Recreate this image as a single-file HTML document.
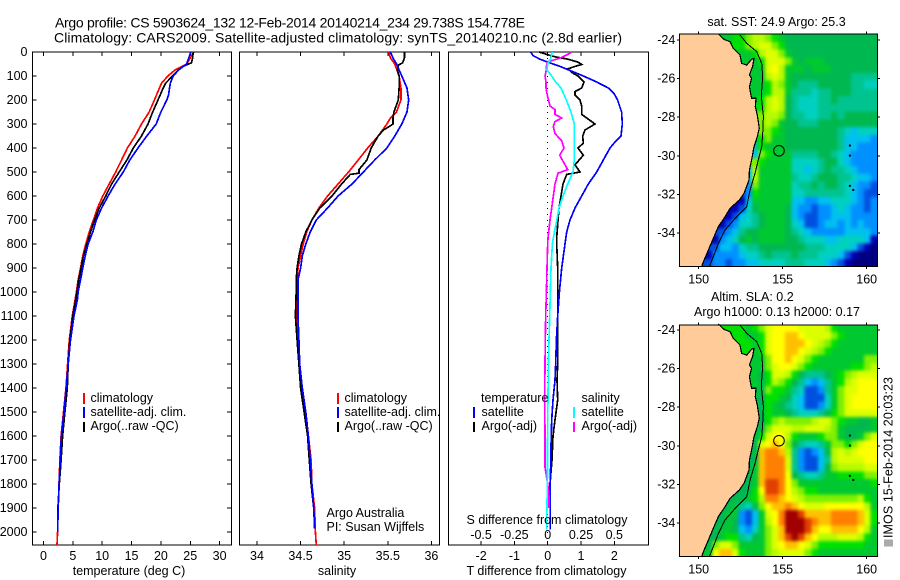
<!DOCTYPE html>
<html>
<head>
<meta charset="utf-8">
<title>Argo profile CS 5903624_132</title>
<style>
html,body{margin:0;padding:0;background:#fff;}
svg{display:block;}
text{font-family:"Liberation Sans",sans-serif;font-size:12.5px;fill:#000;}
.ttl{font-size:14px;}
</style>
</head>
<body>
<svg id="fig" xmlns="http://www.w3.org/2000/svg" width="900" height="580" viewBox="0 0 900 580">
  <defs>
    <filter id="soften" filterUnits="userSpaceOnUse" x="660" y="20" width="235" height="550" color-interpolation-filters="sRGB">
      <feGaussianBlur in="SourceGraphic" stdDeviation="1.7" result="b"/>
      <feMerge>
        <feMergeNode in="SourceGraphic"/>
        <feMergeNode in="b"/>
      </feMerge>
    </filter>
    <clipPath id="clipSst"><rect x="679.3" y="34" width="198" height="232.7"/></clipPath>
    <clipPath id="clipSla"><rect x="679.3" y="325" width="198" height="231.7"/></clipPath>
  </defs>
  <text class="ttl" x="55" y="27.5" textLength="470">Argo profile: CS 5903624_132 12-Feb-2014 20140214_234 29.738S 154.778E</text>
  <text class="ttl" x="54" y="42.5" textLength="568">Climatology: CARS2009. Satellite-adjusted climatology: synTS_20140210.nc (2.8d earlier)</text>

  <g id="plots"></g>
  <g id="maps"></g>

  <text x="129" y="575" text-anchor="middle">temperature (deg C)</text>
  <text x="337" y="575" text-anchor="middle">salinity</text>
  <text x="546.5" y="575" text-anchor="middle">T difference from climatology</text>
  <text x="547" y="524" text-anchor="middle">S difference from climatology</text>

  <g>
    <rect x="83" y="393" width="2" height="11" fill="#f00"/>
    <rect x="83" y="407" width="2" height="11" fill="#00f"/>
    <rect x="83" y="422" width="2" height="10" fill="#000"/>
    <text x="90.5" y="402">climatology</text>
    <text x="90.5" y="416">satellite-adj. clim.</text>
    <text x="90.5" y="430">Argo(..raw -QC)</text>
  </g>
  <g>
    <rect x="337" y="393" width="2" height="11" fill="#f00"/>
    <rect x="337" y="407" width="2" height="11" fill="#00f"/>
    <rect x="337" y="422" width="2" height="10" fill="#000"/>
    <text x="344.5" y="402">climatology</text>
    <text x="344.5" y="416">satellite-adj. clim.</text>
    <text x="344.5" y="430">Argo(..raw -QC)</text>
    <text x="326.5" y="517">Argo Australia</text>
    <text x="326.5" y="531">PI: Susan Wijffels</text>
  </g>
  <g>
    <text x="481" y="402">temperature</text>
    <rect x="473" y="407" width="2" height="11" fill="#00f"/>
    <rect x="473" y="422" width="2" height="10" fill="#000"/>
    <text x="481.5" y="416">satellite</text>
    <text x="481.5" y="430">Argo(-adj)</text>
    <text x="581.5" y="402">salinity</text>
    <rect x="573" y="407" width="2" height="11" fill="#0ff"/>
    <rect x="573" y="422" width="2" height="10" fill="#f0f"/>
    <text x="581.5" y="416">satellite</text>
    <text x="581.5" y="430">Argo(-adj)</text>
  </g>

  <text x="776.5" y="26" text-anchor="middle">sat. SST: 24.9 Argo: 25.3</text>
  <text x="711" y="301">Altim. SLA: 0.2</text>
  <text x="694" y="316" textLength="166">Argo h1000: 0.13 h2000: 0.17</text>
  <rect x="884" y="539.5" width="9" height="7" fill="#aaa"/>
  <text transform="translate(892.5,538) rotate(-90)" textLength="161">IMOS 15-Feb-2014 20:03:23</text>
</svg>

<script>
// ---------- Depth axis ----------
const depthTicks = [0,100,200,300,400,500,600,700,800,900,1000,1100,1200,1300,1400,1500,1600,1700,1800,1900,2000];

// ---------- Temperature panel ----------
const tempTicks = [0,5,10,15,20,25,30];
const tempClimDepth = [0,50,75,100,130,200,250,300,350,400,450,500,550,600,650,700,750,800,850,900,950,1000,1030,1100,1200,1300,1400,1500,1600,1700,1800,1900,2000,2054];
const tempClimValue = [25.6,24.4,22.4,21.2,20.1,18.9,18.0,16.7,15.6,14.3,13.3,12.3,11.2,10.1,9.2,8.5,7.8,7.2,6.7,6.3,5.9,5.6,5.4,4.9,4.4,4.1,3.83,3.4,3.0,2.8,2.64,2.5,2.4,2.3];
const tempSatDepth = [0,50,75,100,130,180,200,250,300,350,400,450,500,550,600,650,700,750,800,850,900,950,1000,1030,1100,1200,1300,1400,1500,1600,1700,1800,1900,2000];
const tempSatValue = [25.1,24.4,23,22.1,21.6,21.3,21,20,19.2,17.6,16.1,14.7,13.6,12.2,11,9.9,9,8.4,7.6,7.1,6.7,6.3,5.9,5.8,5.2,4.6,4.2,3.85,3.5,3.05,2.85,2.65,2.5,2.4];
const tempArgoDepth = [0,25,45,50,60,75,100,130,150,200,250,300,350,400,450,500,550,600,650,700,750,800,850,900,950,1000,1030,1100,1200,1300,1400,1500,1600,1700,1800,1900,1950];
const tempArgoValue = [25.5,25.4,25.2,24.7,23.8,23,22,20.8,20.4,19.5,18.6,17.8,16.7,15.3,14.2,12.9,11.6,10.6,9.5,8.7,8,7.4,6.8,6.4,6,5.7,5.5,5,4.5,4.2,4.05,3.65,3.25,3.0,2.7,2.45,2.45];

// ---------- Salinity panel ----------
const salTicks = [34,34.5,35,35.5,36];
const salClimDepth = [0,25,50,100,150,200,250,275,300,350,400,450,500,550,600,650,700,750,800,850,900,950,1000,1100,1200,1300,1400,1500,1600,1700,1800,1900,2000,2054];
const salClimValue = [35.51,35.53,35.58,35.63,35.65,35.65,35.6,35.53,35.49,35.39,35.27,35.16,35.05,34.93,34.81,34.71,34.63,34.57,34.53,34.5,34.47,34.46,34.45,34.46,34.47,34.49,34.51,34.56,34.59,34.62,34.63,34.66,34.67,34.68];
const salSatDepth = [0,25,50,100,150,200,250,300,350,400,450,500,550,600,650,700,750,800,850,900,950,1000,1100,1200,1300,1400,1500,1600,1700,1800,1900,1985];
const salSatValue = [35.53,35.56,35.6,35.66,35.72,35.74,35.72,35.66,35.58,35.49,35.35,35.22,35.09,34.93,34.81,34.68,34.61,34.56,34.52,34.5,34.47,34.47,34.47,34.48,34.49,34.52,34.56,34.59,34.61,34.63,34.65,34.66];
const salArgoDepth = [0,25,45,55,75,100,150,200,250,275,300,310,325,350,400,450,490,505,510,550,600,650,700,750,800,850,900,950,1000,1100,1200,1300,1400,1500,1600,1700,1800,1900];
const salArgoValue = [35.69,35.69,35.67,35.62,35.61,35.63,35.63,35.62,35.57,35.56,35.56,35.52,35.45,35.39,35.31,35.26,35.17,35.17,35.07,34.97,34.86,34.72,34.63,34.56,34.51,34.48,34.46,34.45,34.45,34.44,34.46,34.48,34.5,34.54,34.58,34.6,34.62,34.65];

// ---------- Difference panel ----------
const diffTTicks = [-2,-1,0,1,2];
const diffSTicks = [-0.5,-0.25,0,0.25,0.5];
const diffSLabels = ['-0.5','-0.25','0','0.25','0.5'];
const diffTSatDepth = [0,15,30,42,60,80,100,125,150,175,200,250,300,350,375,400,450,500,550,600,650,700,750,800,900,1000,1100,1200,1300,1367,1450,1533,1645,1783,1990];
const diffTSatValue = [-0.51,-0.44,-0.23,0,0.37,0.72,1.07,1.47,1.82,2.0,2.1,2.22,2.24,2.2,2.02,1.87,1.67,1.47,1.22,1.02,0.82,0.67,0.57,0.52,0.42,0.35,0.3,0.26,0.24,0.22,0.16,0.12,0.1,0.08,0.08];
const diffTArgoDepth = [0,10,20,30,42,52,60,70,85,100,125,150,165,180,200,225,260,275,300,325,350,380,400,430,470,500,510,550,600,650,700,775,800,900,1000,1100,1200,1300,1367,1450,1533,1600,1700,1800,1900];
const diffTArgoValue = [-0.26,-0.03,0.22,0.61,0.91,1.02,0.82,0.61,0.72,0.91,1.09,1.02,0.82,0.82,0.97,1.02,1.02,1.17,1.42,1.12,1.05,1.07,0.91,1.07,0.82,0.97,0.57,0.46,0.4,0.34,0.31,0.27,0.27,0.3,0.3,0.3,0.3,0.3,0.28,0.3,0.22,0.16,0.13,0.07,0.05];
const diffSSatDepth = [0,30,50,75,100,125,150,200,250,300,350,400,450,500,550,600,650,700,775,800,900,1000,1100,1200,1300,1400,1533,1783,1990];
const diffSSatValue = [0.035,0.02,0,-0.005,0.03,0.06,0.1,0.14,0.175,0.2,0.2,0.2,0.2,0.19,0.15,0.115,0.085,0.068,0.042,0.035,0.025,0.02,0.015,0.01,0.005,0.003,0,-0.002,-0.008];
const diffSArgoDepth = [0,10,20,30,40,60,75,100,125,150,180,225,240,260,275,290,310,340,370,400,430,470,490,505,550,600,650,700,775,800,900,1000,1100,1200,1300,1400,1500,1600,1730,1800,1850,1900];
const diffSArgoValue = [0.18,0.15,0.115,0.068,0,-0.01,-0.01,-0.02,-0.013,-0.013,-0.003,0.017,0.055,0.055,0.105,0.055,0.042,0.055,0.105,0.122,0.09,0.13,0.15,0.077,0.055,0.042,0.03,0.017,0.002,0,-0.005,-0.01,-0.015,-0.018,-0.02,-0.022,-0.022,-0.02,-0.02,0,0.01,0.01];

// ---------- Maps ----------
const mapLonTicks = [150,155,160];
const mapLatTicks = [-24,-26,-28,-30,-32,-34];
const argoLon = 154.778;
const argoLat = -29.738;
const colorScale = ['#000080','#0000b4','#0050e0','#0090ff','#00c0f0','#00d0c0','#00c490','#00b850','#00c830','#00e000','#80f000','#b8fa00','#dcff00','#ffff00','#ffc000','#ff8000','#e04000','#a00000'];
const sstRows = [
"......8899abba9877777777777777",
"........99abcca977777777777777",
".........889bcca87777777777777",
"..........889ccca8788877777777",
"...........88cdb88878887777777",
"...........88bcb87777777776666",
"...........889ba87666777776655",
"...........889bb86665667776666",
"...........89bcb76555667666666",
"............9bcb76555666666666",
"............abba76655667677777",
"............aba877666777777777",
"............aa9877777777654555",
"...........89a8877777777644443",
"...........6988877777777644333",
"...........4a98886666776543333",
"...........a988885555677543333",
"..........4b888885545676654333",
"..........4b888886556777665443",
"..........3a888885667677654332",
".........239888885566666654322",
".........148888884433445554323",
"........1257888874332334543323",
".......12456788874322334443333",
"......123556788875422344343433",
"......234677888876543333344443",
".....1345787888877655544555541",
".....2443566777777766655554210",
"....13333455676667666555421000",
"....23323344555566655543210000"
];
const slaRows = [
"......999989acddddccccb9888888",
"........99889cddeedcccca988888",
".........9989cddeeedcba9888888",
"..........989cddeedcba98888888",
"...........88addedca98888888aa",
"...........88acddca988888899ab",
"...........879ccb97666789abccc",
"...........879ba976434689bcddd",
"...........87a9986522368accddd",
"............799875422258acdddd",
"............798765422358acdddd",
"............798876555679accccc",
"............79abaaaabcca988778",
"...........77acccbbcccba877778",
"...........79cddb98889aa8778ac",
"...........7cdeda765568aa9acdd",
"...........7effeb632347bcbcddd",
"..........77efffc632246bccccdd",
"..........78efffc632247abbbbcc",
"..........78efffd76556889999aa",
".........778eggfda888888888889",
".........779dggfdba99888888888",
"........7789bffedcbaaaaaaaab98",
".......78657adeefedcccddddddb8",
"......7883248cdfhhgeeeeffffec9",
"......7873248bdfhhhgfeeffffec9",
".....78874358acehhhgeddeeeedb8",
".....78996578aceghgedbbbcccb98",
"....7acca8888acdeedca999999988",
"....8deec9888abcccca9888888888"
];
const coastLon = [151.17,151.51,151.87,152.06,152.46,152.56,152.86,153.15,153.29,153.21,153.02,153.15,153.02,153.15,153.41,153.37,153.49,153.61,153.49,153.29,153.15,153.02,153.00,152.70,152.42,151.87,151.57,151.17,150.87,150.58,150.28,150.18];
const coastLat = [-23.69,-23.97,-24.09,-24.43,-24.78,-25.21,-25.30,-25.00,-24.95,-25.38,-25.81,-25.99,-26.42,-27.02,-27.02,-27.45,-27.89,-28.58,-29.01,-29.53,-30.22,-30.74,-31.25,-31.94,-32.29,-32.72,-33.15,-33.67,-34.28,-34.88,-35.49,-35.74];
const shelfLon = [152.46,152.86,153.45,153.75,153.81,153.75,153.75,153.85,153.81,153.75,153.55,153.35,153.06,152.86,152.26,151.57,151.17,150.87,150.63];
const shelfLat = [-23.74,-24.17,-24.60,-25.21,-25.90,-26.59,-27.11,-27.97,-28.84,-29.53,-30.22,-30.91,-31.77,-32.64,-33.15,-33.84,-34.54,-35.23,-35.74];
const islandLon = [159.0,159.0,159.0,159.2];
const islandLat = [-29.47,-29.99,-31.56,-31.77];

// ---------- Axis functions ----------
const depthY = d => 52 + d * 0.24;
const tempX = v => 43.5 + v * 5.87;
const salX = v => 257 + (v - 34) * 87.2;
const diffTX = v => 547.7 + v * 33.3;
const diffSX = v => 547.7 + v * 133.2;
const lonX = lon => 698.7 + (lon - 150) * 16.8;
const latY1 = lat => 40 + (-24 - lat) * 19.3;
const latY2 = lat => 330 + (-24 - lat) * 19.3;

const NS = 'http://www.w3.org/2000/svg';
const plots = document.getElementById('plots');
const maps = document.getElementById('maps');

function mk(tag, parent) {
  const el = document.createElementNS(NS, tag);
  parent.appendChild(el);
  return el;
}
function frameRect(parent, x, y, w, h) {
  const r = mk('rect', parent);
  r.setAttribute('x', x);
  r.setAttribute('y', y);
  r.setAttribute('width', w);
  r.setAttribute('height', h);
  r.setAttribute('fill', 'none');
  r.setAttribute('stroke', '#000');
  r.setAttribute('stroke-width', '1');
  r.setAttribute('shape-rendering', 'crispEdges');
  return r;
}
function segment(parent, x1, y1, x2, y2) {
  const l = mk('line', parent);
  l.setAttribute('x1', x1);
  l.setAttribute('y1', y1);
  l.setAttribute('x2', x2);
  l.setAttribute('y2', y2);
  l.setAttribute('stroke', '#000');
  l.setAttribute('stroke-width', '1');
  l.setAttribute('shape-rendering', 'crispEdges');
  return l;
}
function label(parent, x, y, str, anchor) {
  const t = mk('text', parent);
  t.setAttribute('x', x);
  t.setAttribute('y', y);
  t.setAttribute('text-anchor', anchor);
  t.textContent = str;
  return t;
}
function profile(parent, depths, values, xFn, color, width) {
  const p = mk('polyline', parent);
  p.setAttribute('points', depths.map((d, i) => xFn(values[i]).toFixed(1) + ',' + depthY(d).toFixed(1)).join(' '));
  p.setAttribute('fill', 'none');
  p.setAttribute('stroke', color);
  p.setAttribute('stroke-width', width);
  p.setAttribute('shape-rendering', 'crispEdges');
  return p;
}

// ---------- Panels ----------
const panelTop = 52, panelBottom = 545;
function panelFrame(left, right, ticks, xFn, name) {
  const g = mk('g', plots);
  
  
  const fr = frameRect(g, left, panelTop, right - left, panelBottom - panelTop);
  
  
  ticks.forEach(v => {
    const a = segment(g, xFn(v), panelTop, xFn(v), panelTop + 4);
    
    
    const b = segment(g, xFn(v), panelBottom - 4, xFn(v), panelBottom);
    
    
    const t = label(g, xFn(v), 560, String(v), 'middle');
    
    
  });
  return g;
}

const tempPanel = panelFrame(32.5, 231.5, tempTicks, tempX, 'temperature-panel');
depthTicks.forEach(d => {
  const a = segment(tempPanel, 32.5, depthY(d), 36.5, depthY(d));
  
  
  const b = segment(tempPanel, 227, depthY(d), 231.5, depthY(d));
  
  
  const t = label(tempPanel, 27.5, depthY(d) + 4, String(d), 'end');
  
  
});
const tClim = profile(tempPanel, tempClimDepth, tempClimValue, tempX, '#f00', 1.7);


const tArgo = profile(tempPanel, tempArgoDepth, tempArgoValue, tempX, '#000', 1.7);


const tSat = profile(tempPanel, tempSatDepth, tempSatValue, tempX, '#00f', 1.7);



const salPanel = panelFrame(239.5, 439.5, salTicks, salX, 'salinity-panel');
const sClim = profile(salPanel, salClimDepth, salClimValue, salX, '#f00', 1.7);


const sArgo = profile(salPanel, salArgoDepth, salArgoValue, salX, '#000', 1.7);


const sSat = profile(salPanel, salSatDepth, salSatValue, salX, '#00f', 1.7);



const diffPanel = panelFrame(448.5, 648.5, diffTTicks, diffTX, 'difference-panel');
const zeroLine = segment(diffPanel, diffTX(0), panelTop, diffTX(0), panelBottom);
zeroLine.setAttribute('stroke-dasharray', '1 5');


diffSTicks.forEach((v, i) => {
  const t = label(diffPanel, diffSX(v), 539, diffSLabels[i], 'middle');
  
  
});
const dTArgo = profile(diffPanel, diffTArgoDepth, diffTArgoValue, diffTX, '#000', 1.7);


const dTSat = profile(diffPanel, diffTSatDepth, diffTSatValue, diffTX, '#00f', 1.7);


const dSArgo = profile(diffPanel, diffSArgoDepth, diffSArgoValue, diffSX, '#f0f', 1.7);


const dSSat = profile(diffPanel, diffSSatDepth, diffSSatValue, diffSX, '#0ff', 1.7);



// ---------- Map drawing ----------
const mapLeftLon = 148.845, cellLon = 0.3929, topLat = -23.69, cellLat = 0.4016;
function drawMap(rows, latY, frameTop, frameBottom, clipId, name) {
  const g = mk('g', maps);
  
  
  const clipped = mk('g', g);
  clipped.setAttribute('clip-path', 'url(#' + clipId + ')');
  
  
  const field = mk('g', clipped);
  field.setAttribute('filter', 'url(#soften)');
  
  
  rows.forEach((row, j) => {
    const seaEdge = row.match(/[^.]/)[0];
    [...row].forEach((ch, i) => {
      const x0 = lonX(mapLeftLon + i * cellLon);
      const x1 = lonX(mapLeftLon + (i + 1) * cellLon);
      const y0 = latY(topLat - j * cellLat);
      const y1 = latY(topLat - (j + 1) * cellLat);
      const c = mk('rect', field);
      c.setAttribute('x', x0);
      c.setAttribute('y', y0);
      c.setAttribute('width', x1 - x0 + 0.4);
      c.setAttribute('height', y1 - y0 + 0.4);
      c.setAttribute('fill', colorScale[parseInt(ch === '.' ? seaEdge : ch, 36)]);
      c.setAttribute('shape-rendering', 'crispEdges');
      
      
    });
  });
  const left = lonX(mapLeftLon), right = lonX(mapLeftLon + 30 * cellLon);
  const land = mk('polygon', g);
  const coastPts = coastLon.map((lon, i) => lonX(lon).toFixed(1) + ',' + latY(coastLat[i]).toFixed(1));
  land.setAttribute('points', coastPts.join(' ') + ' ' + left + ',' + frameBottom + ' ' + left + ',' + frameTop + ' ' + lonX(coastLon[0]).toFixed(1) + ',' + frameTop);
  land.setAttribute('fill', '#ffcc99');
  land.setAttribute('shape-rendering', 'crispEdges');
  
  
  const coast = mk('polyline', g);
  coast.setAttribute('points', coastPts.join(' '));
  coast.setAttribute('fill', 'none');
  coast.setAttribute('stroke', '#000');
  coast.setAttribute('stroke-width', '1.2');
  coast.setAttribute('shape-rendering', 'crispEdges');
  
  
  const shelf = mk('polyline', g);
  shelf.setAttribute('points', shelfLon.map((lon, i) => lonX(lon).toFixed(1) + ',' + latY(shelfLat[i]).toFixed(1)).join(' '));
  shelf.setAttribute('fill', 'none');
  shelf.setAttribute('stroke', '#000');
  shelf.setAttribute('stroke-width', '1');
  shelf.setAttribute('shape-rendering', 'crispEdges');
  
  
  islandLon.forEach((lon, i) => {
    const dot = mk('rect', g);
    dot.setAttribute('x', lonX(lon) - 1);
    dot.setAttribute('y', latY(islandLat[i]) - 1);
    dot.setAttribute('width', 2);
    dot.setAttribute('height', 2);
    dot.setAttribute('fill', '#000');
    
    
  });
  const marker = mk('circle', g);
  marker.setAttribute('cx', lonX(argoLon));
  marker.setAttribute('cy', latY(argoLat));
  marker.setAttribute('r', 5.3);
  marker.setAttribute('fill', 'none');
  marker.setAttribute('stroke', '#000');
  marker.setAttribute('stroke-width', '1');
  
  
  const fr = frameRect(g, left, frameTop, right - left, frameBottom - frameTop);
  
  
  mapLonTicks.forEach(lon => {
    const a = segment(g, lonX(lon), frameTop - 2.5, lonX(lon), frameTop);
    
    
    const b = segment(g, lonX(lon), frameBottom, lonX(lon), frameBottom + 2.5);
    
    
    const t = label(g, lonX(lon), frameBottom + 17, String(lon), 'middle');
    
    
  });
  mapLatTicks.forEach(lat => {
    const a = segment(g, left - 2.5, latY(lat), left, latY(lat));
    
    
    const b = segment(g, right, latY(lat), right + 2.5, latY(lat));
    
    
    const t = label(g, left - 4, latY(lat) + 4, String(lat), 'end');
    
    
  });
}
drawMap(sstRows, latY1, 34, 266.7, 'clipSst', 'sst-map');
drawMap(slaRows, latY2, 325, 556.7, 'clipSla', 'sla-map');
</script>
</body>
</html>
